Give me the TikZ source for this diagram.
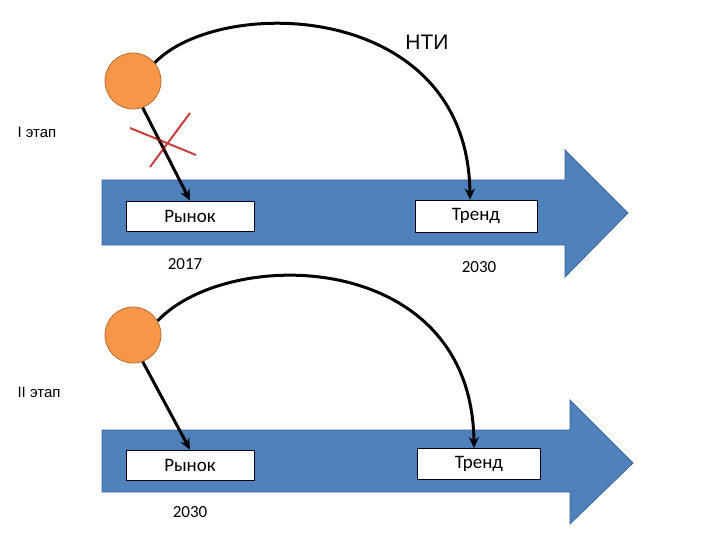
\documentclass[tikz,border=0pt]{standalone}
\usepackage{fontspec}
\setmainfont{Carlito}
\newfontfamily\arialf{Liberation Sans}
\usetikzlibrary{arrows.meta}
\definecolor{barblue}{HTML}{4F81BD}
\definecolor{barline}{HTML}{3A679B}
\definecolor{ball}{HTML}{F79646}
\definecolor{ballline}{HTML}{B66D31}
\tikzset{
 bar/.style={fill=barblue,draw=barline,line width=0.8pt},
 ballst/.style={circle,fill=ball,draw=ballline,line width=0.8pt,minimum size=56pt,inner sep=0pt},
 box/.style={draw=black,fill=white,line width=0.8pt,minimum width=128pt,minimum height=30pt,inner sep=0pt,font=\fontsize{19}{19}\selectfont},
 lbl/.style={font=\fontsize{17}{17}\selectfont},
 con/.style={line width=3pt,-{Stealth[length=11pt,width=10pt]}}
}
\begin{document}
\begin{tikzpicture}[x=1pt,y=-1pt]
\useasboundingbox (0,0) rectangle (720,540);
% top bar
\draw[bar] (102,180) -- (565,180) -- (565,150) -- (628,213) -- (565,277) -- (565,245) -- (102,245) -- cycle;
\node[ballst] (b1) at (133,81) {};
\node[box] (r1) at (190,216) {Рынок};
\node[box,minimum width=122pt,minimum height=32pt] (t1) at (476,216) {Тренд};
\node[lbl] (y1) at (185,264) {2017};
\node[lbl] (y2) at (479,267) {2030};
\node[font=\arialf\fontsize{21}{21}\selectfont] (nti) at (427,42) {НТИ};
\node[font=\arialf\fontsize{15}{15}\selectfont,anchor=west] (s1) at (14,132) {I этап};
\draw[con] (b1.-70) -- (r1.north);
\draw[con] (b1.40) .. controls (220,-5) and (468,0) .. (t1.north -| 470,0);
\coordinate (x1) at (130,128); \coordinate (x2) at (196,155);
\coordinate (x3) at (150,167); \coordinate (x4) at (190,113);
\draw[red!70!black,line width=2pt,opacity=0.75] (x1) -- (x2) (x3) -- (x4);
% bottom bar
\draw[bar] (102,430) -- (570,430) -- (570,400) -- (633,463) -- (570,524) -- (570,492) -- (102,492) -- cycle;
\node[ballst] (b2) at (133,335) {};
\node[box] (r2) at (190,465) {Рынок};
\node[box,minimum width=123pt,minimum height=31pt] (t2) at (479,464) {Тренд};
\node[lbl] (y3) at (190,512) {2030};
\node[font=\arialf\fontsize{15}{15}\selectfont,anchor=west] (s2) at (14,392) {II этап};
\draw[con] (b2.-70) -- (r2.north);
\draw[con] (b2.30) .. controls (230,245) and (472,250) .. (t2.north -| 474,0);
\end{tikzpicture}
\end{document}
